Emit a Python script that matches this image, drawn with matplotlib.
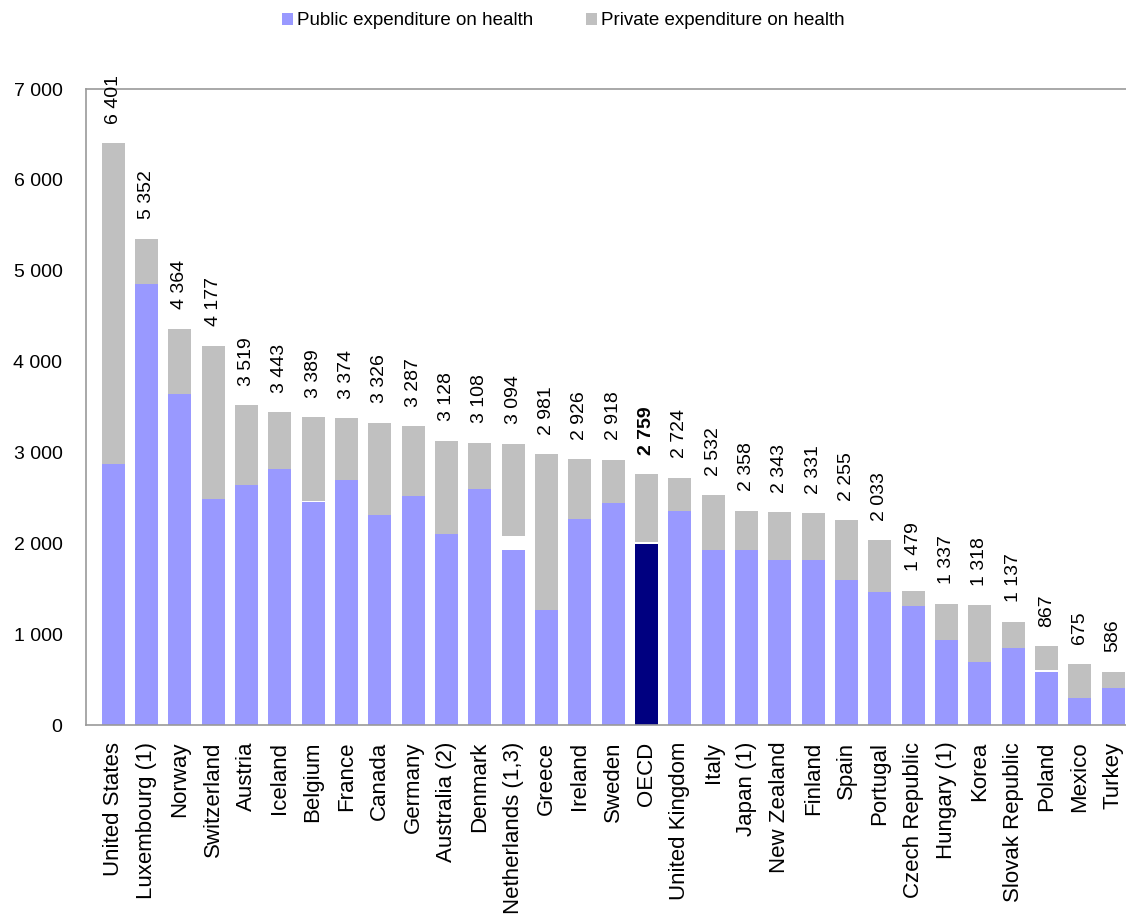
import matplotlib.pyplot as plt
import numpy as np

plt.rcParams['font.family'] = ['Liberation Sans', 'DejaVu Sans']

countries = ["United States", "Luxembourg (1)", "Norway", "Switzerland", "Austria",
             "Iceland", "Belgium", "France", "Canada", "Germany", "Australia (2)",
             "Denmark", "Netherlands (1,3)", "Greece", "Ireland", "Sweden", "OECD",
             "United Kingdom", "Italy", "Japan (1)", "New Zealand", "Finland", "Spain",
             "Portugal", "Czech Republic", "Hungary (1)", "Korea", "Slovak Republic",
             "Poland", "Mexico", "Turkey"]
total = [6401, 5352, 4364, 4177, 3519, 3443, 3389, 3374, 3326, 3287, 3128,
         3108, 3094, 2981, 2926, 2918, 2759, 2724, 2532, 2358, 2343, 2331, 2255,
         2033, 1479, 1337, 1318, 1137, 867, 675, 586]
public = [2869, 4851, 3644, 2493, 2646, 2823, 2451, 2693, 2317, 2516, 2097,
          2601, 1921, 1262, 2272, 2448, 1987, 2360, 1921, 1921, 1811, 1811, 1592,
          1460, 1306, 933, 692, 845, 582, 296, 406]
# expenditure not split between public and private (white gap in the bars)
unallocated = [0, 0, 0, 0, 0, 0, 15, 0, 0, 0, 0,
               0, 154, 0, 0, 0, 22, 0, 0, 0, 0, 0, 0,
               0, 0, 0, 0, 0, 22, 0, 0]

total = np.array(total)
public = np.array(public)
unallocated = np.array(unallocated)
private = total - public - unallocated
x = np.arange(len(countries))

fig = plt.figure(figsize=(11.26, 9.16), dpi=100)
ax = fig.add_axes([0.0764, 0.2085, 0.93, 0.6943])

pub_colors = ['#000080' if c == 'OECD' else '#9999FF' for c in countries]
w = 0.69
ax.bar(x, public, w, color=pub_colors, label='Public expenditure on health')
ax.bar(x, unallocated, w, bottom=public, color='white')
ax.bar(x, private, w, bottom=public + unallocated, color='#C0C0C0',
       label='Private expenditure on health')

for i, v in enumerate(total):
    txt = f"{v:,}".replace(",", " ")
    ax.annotate(txt, (x[i], v), xytext=(0, 14), textcoords='offset points',
                rotation=90, ha='center', va='bottom', fontsize=14,
                fontweight='bold' if countries[i] == 'OECD' else 'normal',
                annotation_clip=False)

ax.set_ylim(0, 7000)
ax.set_xlim(-0.81, 30.6)
ax.set_yticks(range(0, 7001, 1000))
ax.set_yticklabels([f"{t:,}".replace(",", " ") for t in range(0, 7001, 1000)])
ax.set_xticks(x)
ax.set_xticklabels(countries, rotation=90)
ax.tick_params(axis='y', length=0, pad=17, labelsize=14)
ax.tick_params(axis='x', length=0, pad=12, labelsize=16)
for s in ax.spines.values():
    s.set_color('#999999')
    s.set_linewidth(1.2)

h, l = ax.get_legend_handles_labels()
fig.legend(h, l, loc='upper center', bbox_to_anchor=(0.5, 1.005), ncol=2,
           frameon=False, fontsize=13.5, handlelength=0.6, handleheight=0.6,
           handletextpad=0.2, columnspacing=2.8)

fig.savefig('out.png', dpi=100)
